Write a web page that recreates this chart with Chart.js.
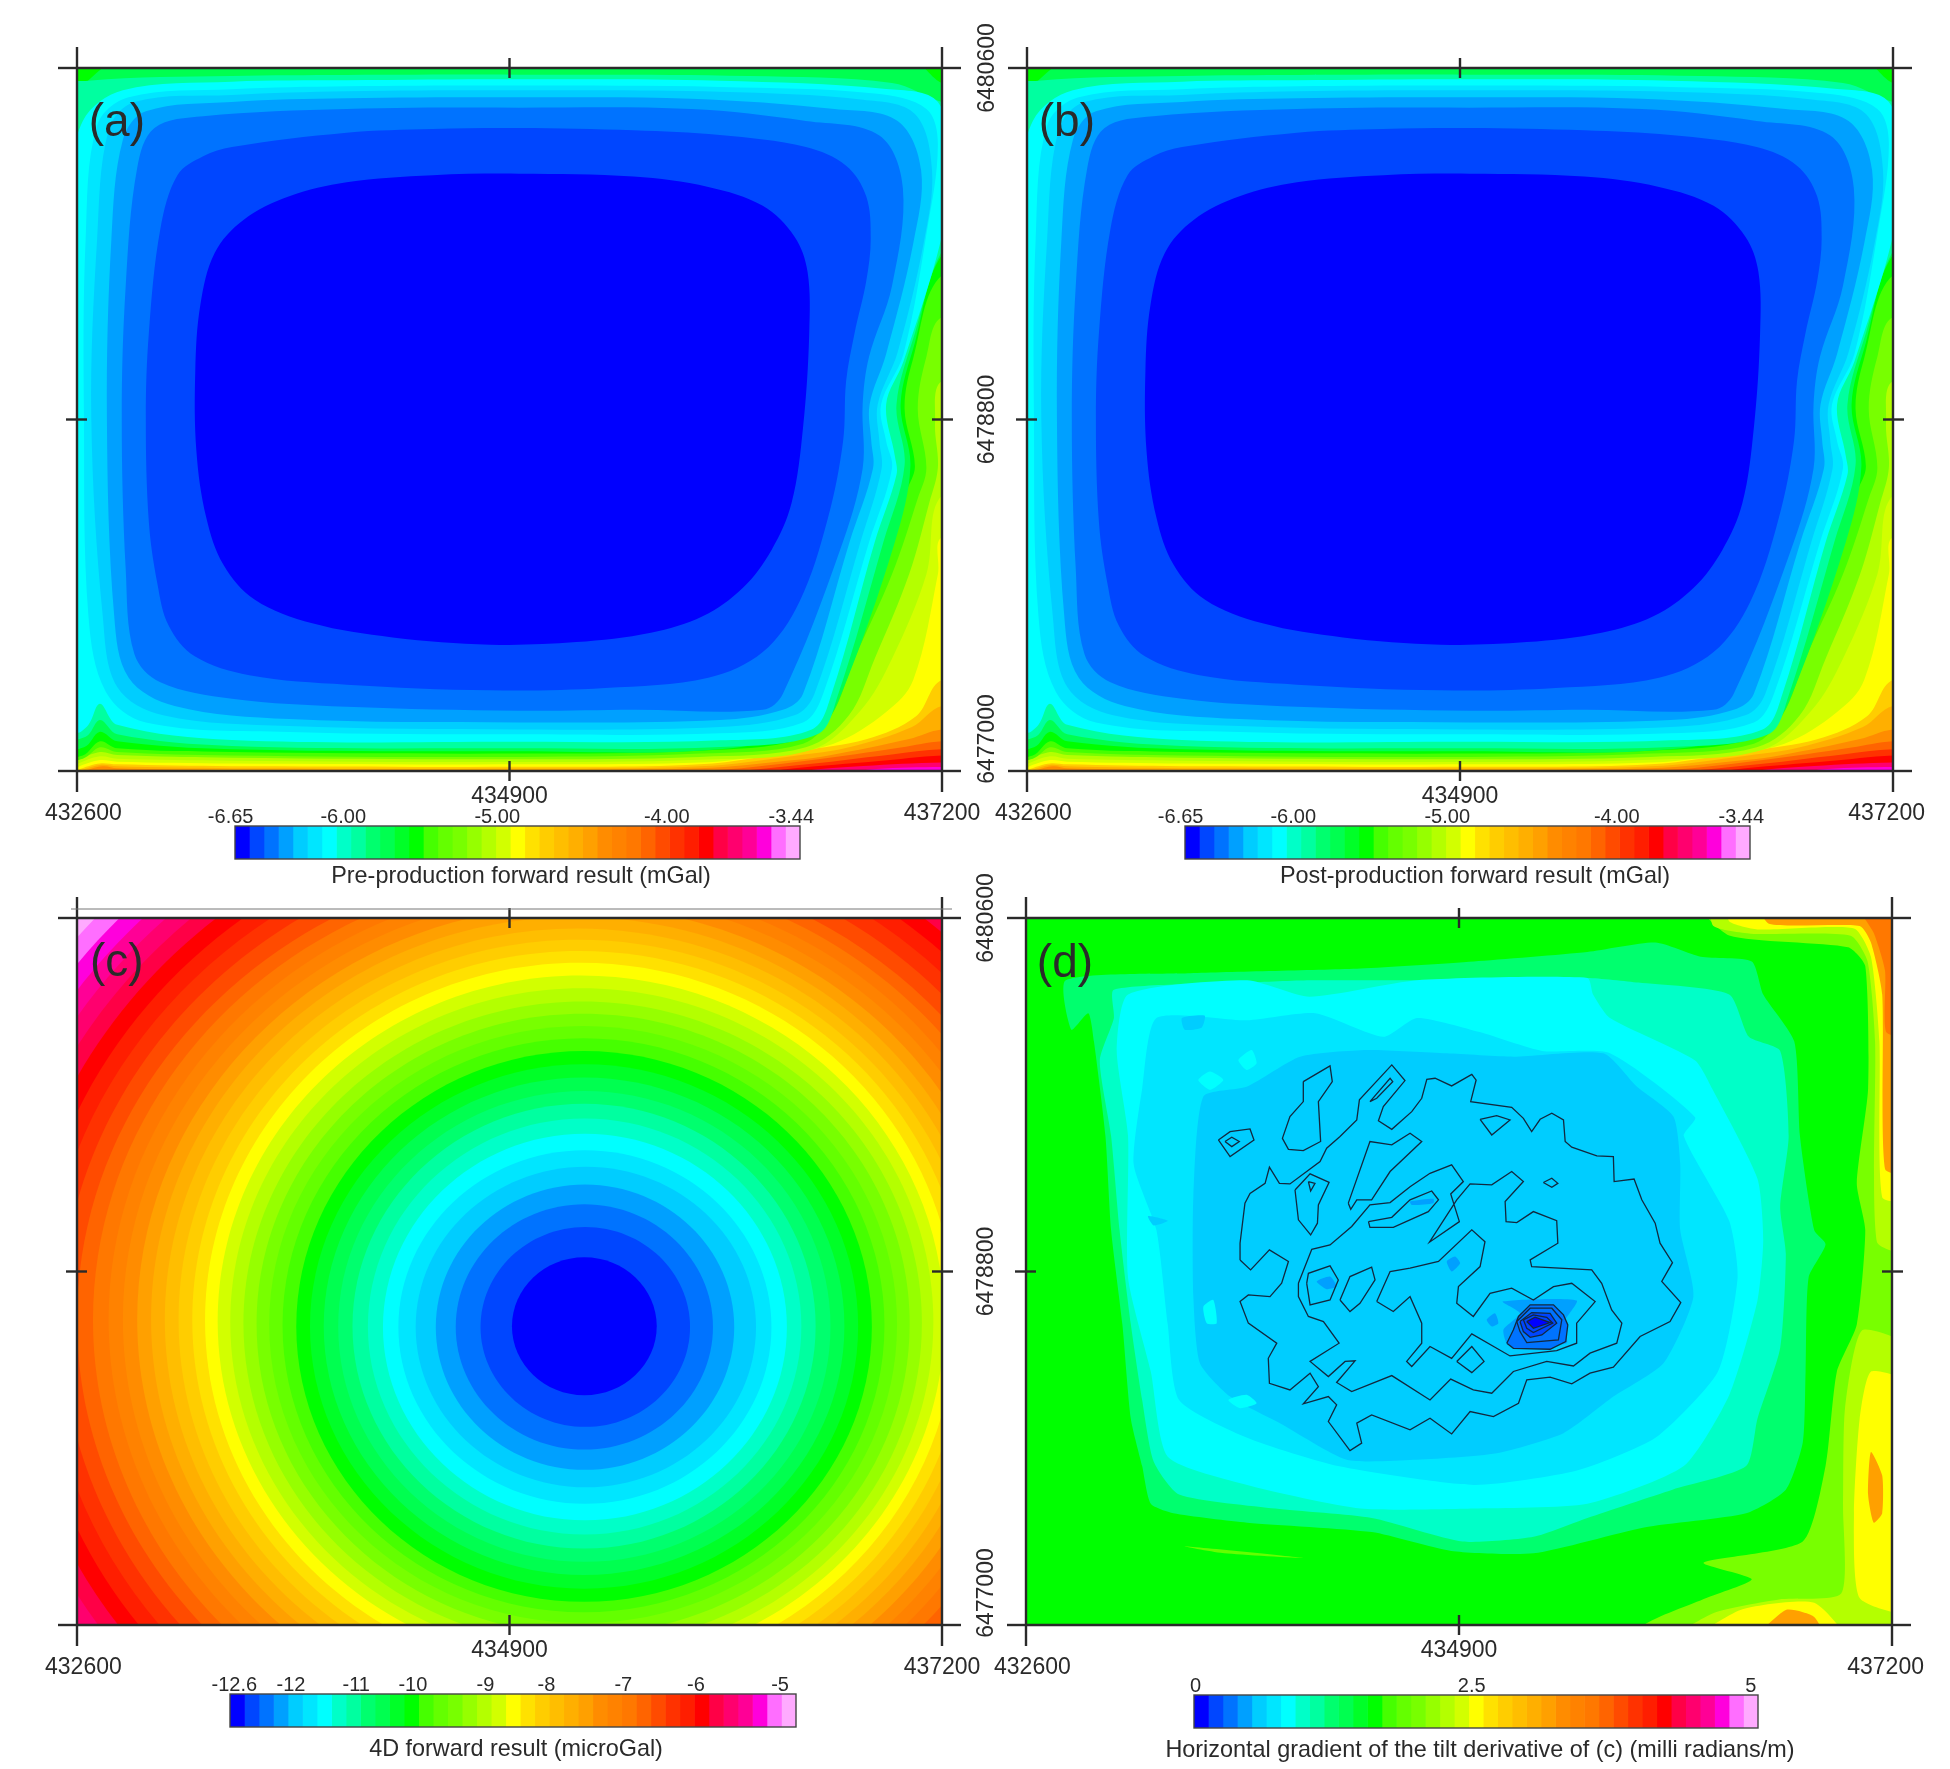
<!DOCTYPE html>
<html>
<head>
<meta charset="utf-8">
<title>Forward gravity maps</title>
<script src="https://cdn.jsdelivr.net/npm/chart.js@4"></script>
<style>
  html, body { margin: 0; background: #fff; }
  #page { position: relative; width: 1950px; height: 1769px; overflow: hidden; }
  #page canvas { position: absolute; }
</style>
</head>
<body>
<div id="page"></div>
<script>
// map axes
const eastingMin = 432600, eastingMax = 437200;
const northingMin = 6477000, northingMax = 6480600;
const xTickValues = [432600, 434900, 437200];
const yTickValues = [6477000, 6478800, 6480600];

// colour scale steps, shared by all four maps
const palette = [
  'rgb(0,0,255)','rgb(0,70,255)','rgb(0,115,255)','rgb(0,160,255)','rgb(0,205,255)','rgb(0,230,255)','rgb(0,255,255)',
  'rgb(0,255,200)','rgb(0,255,160)','rgb(0,255,110)','rgb(0,255,80)','rgb(0,255,40)','rgb(0,255,0)','rgb(70,255,0)',
  'rgb(100,255,0)','rgb(120,255,0)','rgb(150,255,0)','rgb(180,255,0)','rgb(210,255,0)','rgb(255,255,0)','rgb(255,225,0)',
  'rgb(255,205,0)','rgb(255,190,0)','rgb(255,175,0)','rgb(255,160,0)','rgb(255,140,0)','rgb(255,130,0)','rgb(255,120,0)',
  'rgb(255,100,0)','rgb(255,75,0)','rgb(255,50,0)','rgb(255,30,0)','rgb(255,0,0)','rgb(255,0,70)','rgb(255,0,110)',
  'rgb(255,0,150)','rgb(255,0,220)','rgb(255,110,255)','rgb(255,170,255)'
];

// colour bars: tick position along the bar (in colour steps) and its text
const barAStops = [-0.3, 7.47, 18.1, 29.8, 38.4];
const barAText = ['-6.65', '-6.00', '-5.00', '-4.00', '-3.44'];
const barCStops = [0.3, 4.2, 8.7, 12.6, 17.6, 21.8, 27.1, 32.1, 37.9];
const barCText = ['-12.6', '-12', '-11', '-10', '-9', '-8', '-7', '-6', '-5'];
const barDStops = [0.1, 19.2, 38.5];
const barDText = ['0', '2.5', '5'];

// (a) and (b): contour outlines, metres east / north of the map's SW corner, outermost first
const gravBgLevel = 36;
const gravLevels = [34, 32, 30, 28, 25, 23, 21, 19, 18, 17, 15, 13, 12, 10, 8, 6, 5, 4, 3, 2, 1, 0];
const gravContours = [
  [[4944,20],[4599,20],[4250,10],[3900,-30],[-183,-90],[-183,3692],[4944,3692]],
  [[4944,43],[4599,43],[4181,25],[3815,-5],[3723,-29],[-183,-77],[-183,3692],[4944,3692]],
  [[4944,80],[4599,80],[4250,50],[3815,14],[3500,-20],[-183,-40],[-183,3692],[4944,3692]],
  [[4944,111],[4599,111],[4334,85],[3815,28],[3311,-10],[-183,-29],[-183,3692],[4944,3692]],
  [[4944,152],[4599,152],[4380,120],[3900,55],[3311,2],[-183,-23],[-183,3692],[4944,3692]],
  [[4944,213],[4599,213],[4425,164],[3998,80],[3815,56],[3311,14],[2350,5],[824,5],[214,14],[137,24],[-183,-17],[-183,3692],[4944,3692]],
  [[4944,333],[4599,333],[4440,225],[4100,120],[3830,80],[3311,24],[2350,13],[824,14],[214,24],[130,32],[-183,-8],[-183,3692],[4944,3692]],
  [[4944,466],[4599,466],[4462,280],[4197,162],[3842,104],[3311,34],[2350,22],[824,24],[214,34],[122,39],[-183,0],[-183,3692],[4944,3692]],
  [[4944,1196],[4599,1196],[4578,1007],[4447,466],[4303,302],[4020,138],[3665,80],[3311,43],[2350,34],[824,39],[214,48],[122,56],[-183,7],[-183,3692],[4944,3692]],
  [[4944,1409],[4599,1409],[4517,1007],[4334,575],[4166,309],[3907,109],[3311,58],[2350,46],[824,53],[214,63],[122,75],[-183,19],[-183,3692],[4944,3692]],
  [[4944,1996],[4599,1996],[4563,1783],[4578,1553],[4532,1372],[4425,1007],[4242,575],[4105,285],[3876,121],[3311,72],[2350,60],[824,68],[214,82],[122,97],[-183,31],[-183,3692],[4944,3692]],
  [[4944,2324],[4599,2324],[4517,2121],[4471,1855],[4517,1553],[4471,1396],[4334,1007],[4135,575],[4013,285],[3861,140],[3311,89],[2350,72],[824,80],[214,97],[122,121],[31,63],[-183,43],[-183,3692],[4944,3692]],
  [[4944,2537],[4599,2537],[4447,2114],[4401,1855],[4456,1561],[4410,1430],[4270,1007],[4074,585],[3968,302],[3842,162],[3311,104],[2350,89],[824,97],[214,116],[122,152],[31,80],[-183,68],[-183,3692],[4944,3692]],
  [[2350,3643],[4425,3643],[4599,3523],[4792,3486],[4792,2653],[4599,2641],[4456,2194],[4380,1877],[4432,1561],[4349,1172],[4059,382],[3952,237],[3418,111],[2350,101],[824,111],[214,152],[122,201],[37,121],[-153,116],[-153,3486],[0,3498],[137,3600],[214,3643]],
  [[2350,3566],[3571,3559],[4334,3523],[4599,3426],[4792,3402],[4792,2774],[4609,2677],[4456,2242],[4358,1877],[4401,1566],[4288,1172],[4044,382],[3937,188],[3418,123],[2350,116],[824,128],[214,188],[122,261],[46,176],[-153,164],[-153,3474],[61,3535],[824,3559],[1434,3564]],
  [[2350,3542],[3418,3535],[4303,3493],[4578,3426],[4639,3088],[4599,2737],[4395,2097],[4303,1877],[4349,1614],[4358,1517],[4242,1172],[4013,396],[3907,213],[3418,157],[2350,150],[824,159],[214,237],[122,345],[61,237],[0,201],[-46,551],[-61,1807],[-31,2967],[31,3329],[244,3486],[824,3530],[1434,3537]],
  [[2350,3510],[3418,3503],[4242,3469],[4517,3390],[4578,3208],[4517,2747],[4395,2136],[4276,1877],[4303,1689],[4334,1549],[4212,1172],[3968,396],[3861,249],[3418,193],[2350,188],[1129,200],[366,249],[153,406],[61,792],[37,1807],[46,2725],[107,3305],[275,3450],[824,3491],[1434,3506]],
  [[2350,3486],[3418,3479],[4181,3438],[4456,3365],[4547,3076],[4502,2701],[4364,2145],[4258,1877],[4267,1689],[4279,1549],[4166,1172],[3922,396],[3815,285],[3418,225],[2350,213],[1129,230],[458,285],[214,430],[137,792],[76,1807],[107,2725],[168,3281],[305,3426],[824,3462],[1434,3481]],
  [[2350,3450],[3266,3443],[4029,3390],[4364,3329],[4489,3076],[4447,2701],[4303,2136],[4215,1877],[4224,1689],[4233,1549],[4108,1172],[3861,396],[3754,314],[3418,261],[2350,249],[1129,266],[519,333],[275,478],[198,792],[159,1807],[183,2725],[244,3233],[366,3378],[824,3426],[1434,3445]],
  [[2350,3397],[3266,3390],[3876,3329],[4267,3254],[4392,2984],[4334,2484],[4212,2121],[4178,1877],[4178,1549],[4056,1126],[3754,396],[3647,314],[2960,314],[2350,309],[1434,329],[824,370],[443,454],[305,599],[259,1034],[238,1807],[259,2484],[320,3088],[412,3293],[671,3353],[1434,3390]],
  [[2350,3293],[2960,3281],[3418,3257],[3876,3196],[4090,3100],[4197,2943],[4221,2725],[4197,2508],[4135,2242],[4090,1996],[4074,1689],[3992,1290],[3842,867],[3647,609],[3357,478],[2808,425],[2197,413],[1434,442],[916,490],[626,587],[488,744],[427,962],[382,1276],[366,1807],[382,2242],[443,2774],[534,3051],[671,3148],[824,3196],[1434,3269],[1892,3288]],
  [[2350,3059],[2960,3044],[3357,2991],[3647,2894],[3815,2737],[3885,2556],[3894,2242],[3861,1759],[3800,1372],[3693,1131],[3540,937],[3327,792],[3052,708],[2655,660],[2197,647],[1679,684],[1251,756],[946,877],[778,1058],[687,1300],[635,1638],[629,2049],[656,2387],[732,2653],[885,2822],[1129,2943],[1434,3015],[1892,3051]]
];

// (c): edges of each closed contour along the map's axes, metres from the SW corner; index = colour step
const ringWest = [2313,2146,2014,1908,1801,1709,1627,1547,1465,1389,1312,1239,1166,1093,1022,955,885,815,748,681,613,540,467,394,320,244,168,85,0,-85,-171,-256,-345,-430,-519,-604,-693,-787];
const ringEast = [3083,3260,3382,3495,3611,3693,3775,3852,3928,4007,4081,4154,4227,4294,4361,4428,4493,4554,4612,4670,4731,4792,4853,4914,4981,5048,5115,5188,5262,5344,5426,5509,5591,5674,5756,5838,5921,6012];
const ringSouth = [1170,1009,893,790,701,617,533,461,389,322,255,185,118,65,10,-46,-103,-159,-214,-271,-327,-382,-437,-492,-550,-608,-668,-728,-788,-869,-946,-1025,-1102,-1182,-1261,-1338,-1417,-1496];
const ringNorth = [1873,2027,2142,2243,2334,2418,2502,2579,2654,2719,2788,2855,2923,2988,3050,3112,3175,3242,3307,3372,3432,3489,3547,3605,3662,3720,3778,3835,3893,3972,4049,4128,4205,4284,4364,4441,4520,4604];

// (d): colour patches painted in order over a green background
const tiltBgLevel = 12;
const tiltLevels = [15, 17, 17, 19, 19, 19, 24, 24, 24, 27, 14, 9, 7, 6, 5, 4, 6, 6, 6, 6, 4, 4, 3, 3, 3, 3, 3];
const tiltPatches = [
  [[3554,3700],[4700,3700],[4700,-100],[3283,-100],[3283,0],[3614,137],[3855,233],[3599,317],[4126,425],[4247,809],[4307,1290],[4413,1530],[4458,2010],[4413,2250],[4473,2731],[4458,3355],[4367,3451],[3735,3511]],
  [[3650,3700],[4700,3700],[4700,1900],[4520,1950],[4510,2971],[4470,3380],[4380,3510],[3850,3520],[3650,3560]],
  [[4440,1500],[4700,1400],[4700,-100],[3400,-100],[3650,60],[4000,130],[4330,160],[4340,600],[4350,1100]],
  [[3735,3700],[4700,3700],[4700,2170],[4548,2178],[4533,2971],[4488,3403],[4398,3547],[3885,3542],[3735,3583]],
  [[4488,1290],[4700,1220],[4700,70],[4428,137],[4398,569],[4428,1049]],
  [[3524,-100],[3795,77],[4187,113],[4367,-100]],
  [[3885,3700],[4700,3700],[4700,2300],[4563,2322],[4548,3211],[4488,3475],[4428,3559],[3946,3571]],
  [[4488,881],[4548,761],[4548,569],[4503,521],[4473,665]],
  [[3855,-100],[4036,77],[4187,41],[4247,-100]],
  [[4400,3700],[4700,3700],[4700,3000],[4569,3019],[4563,3331],[4503,3523]],
  [[843,401],[1476,341],[1054,365]],
  [[211,3283],[873,3319],[1777,3343],[2379,3379],[2982,3427],[3343,3475],[3584,3403],[3855,3379],[3916,3211],[4081,2971],[4111,2490],[4187,2010],[4247,1938],[4157,1770],[4141,1290],[4126,929],[4036,689],[3825,569],[3283,497],[2696,365],[2259,377],[1837,473],[1175,521],[783,569],[663,617],[617,809],[557,1049],[512,1530],[452,2010],[422,2490],[361,2971],[331,3115],[241,3031]],
  [[467,3235],[1175,3271],[1506,3283],[2078,3283],[2982,3295],[3253,3271],[3735,3211],[3840,2995],[4006,2923],[4051,2490],[4006,2130],[4036,1890],[4006,1410],[3885,1049],[3825,809],[3434,689],[2982,545],[2696,449],[2319,425],[1837,545],[1325,593],[813,665],[678,833],[617,1146],[557,1530],[497,2010],[452,2490],[392,2875],[467,3091]],
  [[542,3211],[1175,3283],[1506,3199],[2078,3283],[2982,3295],[3012,3211],[3102,3091],[3554,2875],[3645,2731],[3885,2274],[3916,1962],[3885,1650],[3735,1170],[3494,809],[2982,617],[2379,593],[1777,593],[1175,713],[753,857],[663,1290],[542,1770],[542,2490],[482,2923]],
  [[693,3091],[1175,3079],[1536,3115],[1898,2995],[2078,3091],[2410,3019],[2741,2923],[3102,2911],[3554,2586],[3494,2490],[3735,2058],[3780,1770],[3675,1290],[3343,953],[2922,785],[2379,713],[1657,809],[1175,953],[813,1146],[753,1530],[693,2010],[572,2346],[617,2731]],
  [[942,2691],[1172,2741],[1456,2894],[1810,2928],[2235,2911],[2589,2894],[3067,2911],[3244,2742],[3439,2589],[3475,2351],[3475,2012],[3545,1672],[3386,1333],[3120,1163],[2855,977],[2500,875],[2058,841],[1704,841],[1349,1027],[1084,1163],[924,1333],[889,1672],[889,2181]],
  [[915,2775],[977,2818],[1048,2775],[977,2725]],
  [[1128,2877],[1199,2928],[1225,2860],[1172,2826]],
  [[942,1621],[995,1655],[1013,1537],[960,1537]],
  [[1075,1146],[1172,1172],[1225,1129],[1137,1104]],
  [[828,3091],[949,3103],[934,3043],[843,3031]],
  [[648,2082],[753,2058],[678,2034]],
  [[2532,1647],[2925,1652],[2855,1537],[2872,1435],[2562,1426],[2536,1503],[2624,1587]],
  [[2447,1554],[2491,1587],[2509,1537],[2474,1520]],
  [[1544,1749],[1615,1774],[1650,1723],[1597,1710]],
  [[2235,1851],[2279,1876],[2306,1842],[2261,1800]],
  [[2040,2156],[2164,2170],[2164,2148],[2049,2139]]
];

// (d): deepest closed contours, filled as well as outlined
const tiltCoreLevels = [2, 2, 1, 1, 0];

// (d): black contour lines
const tiltLines = [
  [[1137,1859],[1137,1944],[1163,2148],[1190,2198],[1270,2249],[1293,2331],[1346,2249],[1402,2246],[1562,2360],[1597,2428],[1668,2487],[1757,2572],[1771,2674],[1943,2852],[2013,2772],[1898,2640],[1872,2568],[1943,2524],[2049,2614],[2102,2682],[2129,2779],[2173,2784],[2261,2745],[2368,2804],[2391,2775],[2362,2665],[2580,2636],[2642,2580],[2686,2512],[2731,2575],[2793,2606],[2855,2572],[2864,2462],[2899,2433],[3032,2389],[3120,2385],[3124,2258],[3230,2271],[3271,2165],[3342,2046],[3368,1944],[3434,1845],[3377,1749],[3478,1642],[3421,1545],[3262,1469],[3120,1313],[2996,1282],[2899,1228],[2784,1262],[2660,1248],[2616,1129],[2483,1061],[2359,1087],[2261,973],[2146,1053],[2040,994],[1836,1070],[1757,1028],[1783,926],[1721,888],[1606,1036],[1650,1121],[1606,1163],[1473,1126],[1553,1214],[1509,1282],[1402,1197],[1293,1231],[1287,1358],[1332,1435],[1181,1537],[1137,1647],[1181,1681],[1296,1672],[1358,1740],[1394,1851],[1293,1910],[1193,1808]],
  [[1447,1740],[1518,1913],[1615,1935],[1730,2029],[1827,2139],[1934,2151],[2040,2232],[2146,2300],[2261,2343],[2323,2258],[2256,2195],[2302,2054],[2143,1949],[2288,2165],[2359,2246],[2474,2241],[2580,2309],[2642,2258],[2545,2156],[2550,2054],[2607,2049],[2695,2105],[2819,2059],[2825,1944],[2678,1859],[2686,1825],[3005,1808],[3058,1740],[3111,1604],[3165,1537],[3138,1435],[2996,1384],[2908,1319],[2766,1342],[2589,1291],[2474,1180],[2376,1197],[2256,1252],[2146,1146],[1943,1270],[1730,1189],[1650,1235],[1748,1345],[1695,1342],[1606,1265],[1509,1342],[1663,1435],[1580,1545],[1500,1571],[1447,1672]],
  [[1863,1647],[1934,1800],[2040,1817],[2191,1851],[2368,2012],[2438,1952],[2412,1825],[2297,1723],[2288,1638],[2376,1571],[2465,1689],[2580,1715],[2695,1655],[2802,1723],[2899,1740],[3023,1647],[2925,1537],[2925,1435],[2819,1397],[2571,1370],[2368,1482],[2261,1358],[2146,1418],[2049,1316],[2022,1342],[2102,1435],[2102,1537],[2040,1672],[1951,1596]],
  [[1022,2470],[1084,2512],[1190,2526],[1211,2470],[1084,2385]],
  [[1057,2462],[1093,2484],[1133,2462],[1093,2436]],
  [[1473,2767],[1615,2847],[1627,2767],[1553,2665],[1565,2462],[1473,2416],[1394,2422],[1362,2478],[1402,2589],[1473,2665]],
  [[1827,2665],[1934,2784],[1948,2767],[1863,2682]],
  [[2412,2575],[2500,2594],[2571,2572],[2474,2495]],
  [[1712,2148],[1827,2462],[1943,2445],[2040,2504],[2102,2462],[1934,2309],[1836,2165],[1757,2165],[1725,2117]],
  [[1429,2215],[1509,2297],[1610,2254],[1553,2139],[1548,2046],[1512,1986],[1447,2063]],
  [[1500,2258],[1535,2249],[1512,2210]],
  [[2748,2253],[2793,2275],[2825,2249],[2793,2229]],
  [[1819,2054],[1943,2076],[2040,2165],[2155,2210],[2191,2165],[2137,2105],[1951,2025],[1827,2025]],
  [[1491,1740],[1500,1791],[1615,1829],[1659,1757],[1615,1655],[1509,1630]],
  [[1668,1655],[1721,1774],[1836,1822],[1854,1757],[1774,1638],[1721,1596]],
  [[2288,1342],[2368,1418],[2433,1342],[2368,1285]]
];
const tiltCoreLines = [
  [[2554,1435],[2589,1503],[2616,1571],[2678,1630],[2802,1630],[2855,1579],[2878,1528],[2867,1443],[2784,1404],[2589,1409]],
  [[2607,1545],[2678,1613],[2793,1613],[2846,1554],[2828,1452],[2660,1438],[2624,1494]],
  [[2624,1545],[2686,1591],[2784,1587],[2819,1537],[2740,1477],[2678,1465],[2642,1494]],
  [[2642,1554],[2695,1579],[2766,1567],[2798,1537],[2695,1489],[2660,1511]],
  [[2660,1545],[2704,1567],[2784,1540],[2695,1511]]
];

const FONT = "'Liberation Sans'";
const INK = '#2a2a2a';

function toMap(outline) {
  return outline.map(p => ({ x: eastingMin + p[0], y: northingMin + p[1] }));
}

function filled(outline, level, tension) {
  return {
    data: toMap(outline),
    closedCurve: true,
    showLine: true,
    fill: 'shape',
    backgroundColor: palette[level],
    borderWidth: 0,
    pointRadius: 0,
    tension: tension,
    capBezierPoints: false
  };
}

function contourLine(outline) {
  return {
    data: toMap(outline.concat(outline.slice(0, 1))),
    showLine: true,
    fill: false,
    borderColor: '#12283f',
    borderWidth: 1.3,
    pointRadius: 0,
    tension: 0
  };
}

const sheet = [[-400, -400], [5000, -400], [5000, 4000], [-400, 4000]];

// painter's order, first one at the back
const gravPaint = [filled(sheet, gravBgLevel, 0)].concat(
  gravContours.map((c, i) => filled(c, gravLevels[i], 0.35)));

const ringPaint = [filled(sheet, 38, 0)];
for (let k = ringWest.length - 1; k >= 0; k--) {
  const cx = (ringWest[k] + ringEast[k]) / 2, cy = (ringSouth[k] + ringNorth[k]) / 2;
  ringPaint.push(filled([[ringWest[k], cy], [cx, ringNorth[k]], [ringEast[k], cy], [cx, ringSouth[k]]], k, 0.55));
}

const tiltPaint = [filled(sheet, tiltBgLevel, 0)]
  .concat(tiltPatches.map((c, i) => filled(c, tiltLevels[i], 0.2)))
  .concat(tiltCoreLines.map((c, i) => filled(c, tiltCoreLevels[i], 0)))
  .concat(tiltLines.map(contourLine))
  .concat(tiltCoreLines.map(contourLine));

// the radar chart's closed line, for scatter outlines
const closeCurves = {
  id: 'closeCurves',
  beforeDatasetUpdate(chart, args) {
    const line = args.meta.dataset;
    if (line && chart.data.datasets[args.index].closedCurve) {
      line._loop = true;
      line._fullLoop = true;
    }
  }
};

// crossing ticks, map frame and the panel letter
const mapFurniture = {
  id: 'mapFurniture',
  afterDraw(chart, args, opts) {
    const { ctx, chartArea: a, scales: { x, y } } = chart;
    ctx.save();
    ctx.strokeStyle = INK;
    ctx.lineWidth = 2.4;
    const seg = (x1, y1, x2, y2) => { ctx.beginPath(); ctx.moveTo(x1, y1); ctx.lineTo(x2, y2); ctx.stroke(); };
    xTickValues.forEach((v, i) => {
      const px = x.getPixelForValue(v);
      const reach = (i === 1) ? 10 : 21;
      seg(px, a.top - reach, px, a.top + 10 * (i === 1));
      seg(px, a.bottom - 10 * (i === 1), px, a.bottom + reach);
      if (i !== 1) seg(px, a.top, px, a.bottom);
    });
    yTickValues.forEach((v, i) => {
      const py = y.getPixelForValue(v);
      const reach = (i === 1) ? 11 : 19;
      seg(a.left - reach, py, a.left + 10 * (i === 1), py);
      seg(a.right - 10 * (i === 1), py, a.right + reach, py);
      if (i !== 1) seg(a.left, py, a.right, py);
    });
    if (opts.rule) {
      ctx.strokeStyle = '#777';
      ctx.lineWidth = 1;
      seg(a.left - 6, a.top - 9, a.right + 10, a.top - 9);
    }
    ctx.fillStyle = INK;
    ctx.font = '46px ' + FONT;
    ctx.textAlign = 'center';
    ctx.textBaseline = 'middle';
    ctx.fillText(opts.letter, x.getPixelForValue(eastingMin + opts.letterX), y.getPixelForValue(northingMin + opts.letterY));
    ctx.restore();
  }
};

const barOutline = {
  id: 'barOutline',
  afterDatasetsDraw(chart) {
    const { ctx, chartArea: a } = chart;
    ctx.save();
    ctx.strokeStyle = '#444';
    ctx.lineWidth = 1.4;
    ctx.strokeRect(a.left, a.top, a.right - a.left, a.bottom - a.top);
    ctx.restore();
  }
};

function addCanvas(left, top, w, h) {
  const c = document.createElement('canvas');
  c.width = w; c.height = h;
  c.style.left = left + 'px'; c.style.top = top + 'px';
  c.style.width = w + 'px'; c.style.height = h + 'px';
  document.getElementById('page').appendChild(c);
  return c;
}

function mapChart(box, area, painted, furniture, showNorthing, xLabels) {
  // Chart.js paints the last dataset first
  const datasets = painted.map(d => Object.assign({}, d)).reverse();
  return new Chart(addCanvas(box.left, box.top, box.w, box.h), {
    type: 'scatter',
    data: { datasets },
    plugins: [closeCurves, mapFurniture],
    options: {
      responsive: false,
      animation: false,
      events: [],
      layout: { padding: { left: 0, bottom: 0, right: box.left + box.w - area.right, top: area.top - box.top } },
      plugins: {
        legend: { display: false },
        tooltip: { enabled: false },
        filler: { propagate: false },
        mapFurniture: furniture
      },
      scales: {
        x: {
          type: 'linear', min: eastingMin, max: eastingMax,
          grid: { display: false }, border: { display: false },
          afterFit(s) { s.height = box.top + box.h - area.bottom; },
          afterBuildTicks(s) { s.ticks = xTickValues.map(v => ({ value: v })); },
          ticks: {
            autoSkip: false, maxRotation: 0, padding: 9, color: INK,
            font: { family: FONT, size: 23, lineHeight: '17px' },
            callback: (v, i) => xLabels[i]
          }
        },
        y: {
          type: 'linear', min: northingMin, max: northingMax,
          grid: { display: false }, border: { display: false },
          afterFit(s) { s.width = area.left - box.left; },
          afterBuildTicks(s) { s.ticks = yTickValues.map(v => ({ value: v })); },
          ticks: {
            display: showNorthing, autoSkip: false, minRotation: 90, maxRotation: 90,
            crossAlign: 'center', padding: -45, color: INK,
            font: { family: FONT, size: 23 },
            // leading spaces lift the lowest label clear of the corner
            callback: v => (v === northingMin ? '          ' + v : String(v))
          }
        }
      }
    }
  });
}

function colourBar(left, top, barLeft, barRight, captionGap, caption, stops, text) {
  const w = 800, barH = 33, axisH = 28;
  const captionH = 28 + captionGap + 3;
  return new Chart(addCanvas(left, top - 2, w, axisH + barH + captionH), {
    type: 'bar',
    data: {
      labels: [''],
      datasets: palette.map(c => ({ data: [1], backgroundColor: c, barPercentage: 1, categoryPercentage: 1, borderWidth: 0 }))
    },
    plugins: [barOutline],
    options: {
      indexAxis: 'y',
      responsive: false,
      animation: false,
      events: [],
      plugins: {
        legend: { display: false },
        tooltip: { enabled: false },
        title: {
          display: true, position: 'bottom', text: caption, color: INK,
          font: { family: FONT, size: 23.4, weight: 'normal', lineHeight: '28px' },
          padding: { top: captionGap, bottom: 3 }
        }
      },
      scales: {
        x: {
          type: 'linear', position: 'top', stacked: true, min: 0, max: palette.length,
          grid: { display: false, drawTicks: false }, border: { display: false },
          afterFit(s) { s.height = axisH; },
          afterBuildTicks(s) { s.ticks = stops.map(v => ({ value: v })); },
          ticks: {
            autoSkip: false, maxRotation: 0, padding: -3, color: INK,
            font: { family: FONT, size: 20 },
            callback: (v, i) => text[i]
          }
        },
        // side axes only hold the bar in place; the caption keeps the full width
        y: {
          stacked: true, grid: { display: false }, border: { display: false }, ticks: { display: false },
          afterFit(s) { s.width = barLeft - left; }
        },
        side: {
          type: 'linear', position: 'right', grid: { display: false }, border: { display: false }, ticks: { display: false },
          afterFit(s) { s.width = left + w - barRight; }
        }
      }
    }
  });
}

// panels
mapChart({ left: 0, top: 0, w: 1010, h: 830 }, { left: 77, top: 68, right: 942, bottom: 771 }, gravPaint,
  { letter: '(a)', letterX: 212, letterY: 3318 }, false, [['', '  432600'], '434900', ['', '437200']]);
mapChart({ left: 950, top: 0, w: 1000, h: 830 }, { left: 1027, top: 68, right: 1893, bottom: 771 }, gravPaint,
  { letter: '(b)', letterX: 212, letterY: 3318 }, true, [['', '  432600'], '434900', ['', '437200  ']]);
mapChart({ left: 0, top: 860, w: 1010, h: 820 }, { left: 77, top: 918, right: 942, bottom: 1625 }, ringPaint,
  { letter: '(c)', letterX: 212, letterY: 3370, rule: true }, false, [['', '  432600'], '434900', ['', '437200']]);
mapChart({ left: 950, top: 860, w: 1000, h: 820 }, { left: 1026, top: 918, right: 1892, bottom: 1625 }, tiltPaint,
  { letter: '(d)', letterX: 207, letterY: 3365 }, true, [['', '  432600'], '434900', ['', '437200  ']]);

// colour bars
colourBar(121, 800, 235, 800, 4, 'Pre-production forward result (mGal)', barAStops, barAText);
colourBar(1075, 800, 1185, 1750, 4, 'Post-production forward result (mGal)', barAStops, barAText);
colourBar(116, 1668, 230, 796, 9, '4D forward result (microGal)', barCStops, barCText);
colourBar(1080, 1669, 1194, 1758, 9, 'Horizontal gradient of the tilt derivative of (c) (milli radians/m)', barDStops, barDText);
</script>
</body>
</html>
